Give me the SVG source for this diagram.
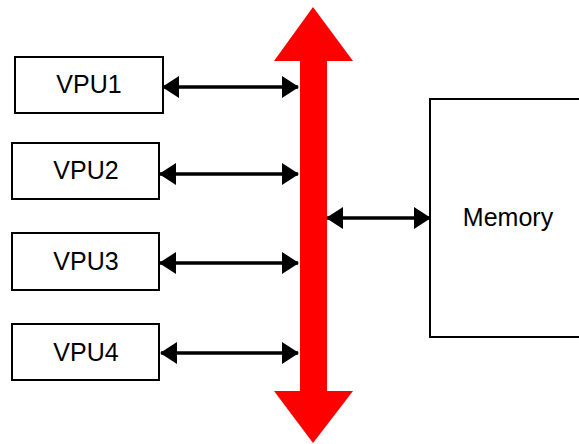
<svg xmlns="http://www.w3.org/2000/svg" width="579" height="444" viewBox="0 0 579 444">
<defs>
<marker id="ah" viewBox="0 0 17 22" refX="16" refY="11" markerWidth="17" markerHeight="22" markerUnits="userSpaceOnUse" orient="auto-start-reverse">
<path d="M0,0 L17,11 L0,22 Z" fill="#000"/>
</marker>
<style>
.box{fill:#fff;stroke:#000;stroke-width:2}
.lbl{font-family:"Liberation Sans",Arial,sans-serif;font-size:25px;fill:#000;text-anchor:middle}
.con{stroke:#000;stroke-width:3.5;fill:none;marker-start:url(#ah);marker-end:url(#ah)}
</style>
</defs>
<rect width="579" height="444" fill="#fff"/>
<g id="bus">
<polygon points="313,7 353,61 327,61 327,391 353,391 313,443 274,391 300,391 300,61 274,61" fill="#ff0000"/>
</g>
<g id="vpu1"><rect class="box" x="15" y="57" width="148" height="56"/><text class="lbl" x="89" y="93">VPU1</text></g>
<g id="vpu2"><rect class="box" x="12" y="143" width="147" height="56"/><text class="lbl" x="86" y="179">VPU2</text></g>
<g id="vpu3"><rect class="box" x="12" y="233" width="147" height="57"/><text class="lbl" x="86" y="270">VPU3</text></g>
<g id="vpu4"><rect class="box" x="12" y="324" width="147" height="56"/><text class="lbl" x="86" y="361">VPU4</text></g>
<g id="memory"><rect class="box" x="430" y="99" width="160" height="238"/><text class="lbl" x="508" y="226">Memory</text></g>
<g id="connectors">
<line class="con" x1="163" y1="87" x2="298" y2="87"/>
<line class="con" x1="160" y1="174" x2="298" y2="174"/>
<line class="con" x1="160" y1="263" x2="298" y2="263"/>
<line class="con" x1="161" y1="353" x2="298" y2="353"/>
<line class="con" x1="327" y1="218" x2="430" y2="218"/>
</g>
</svg>
